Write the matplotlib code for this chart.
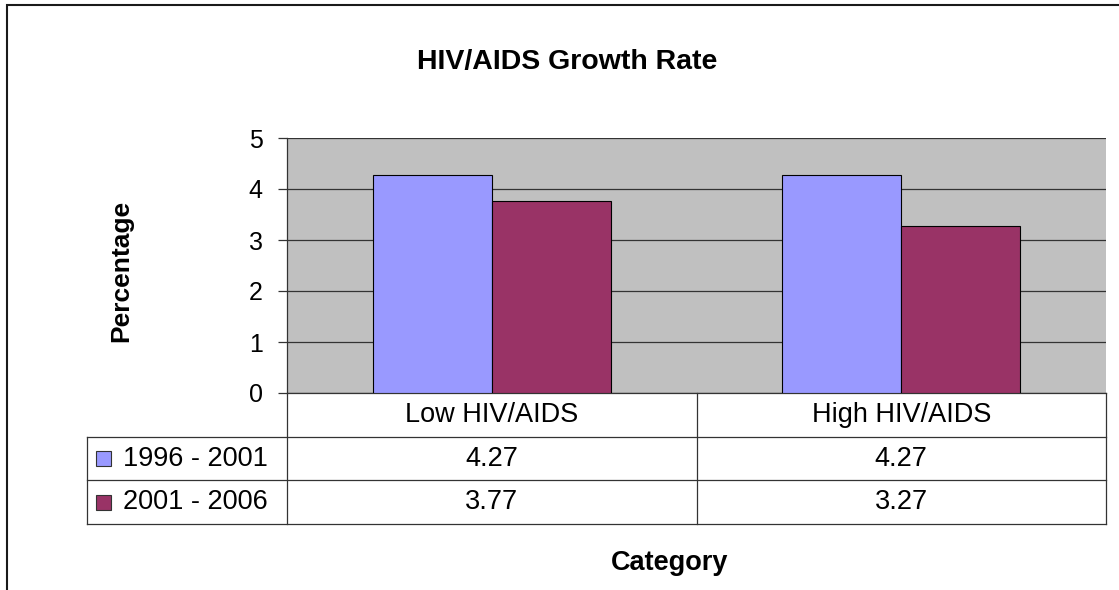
import matplotlib
matplotlib.use("Agg")
import matplotlib.pyplot as plt
from matplotlib.patches import Rectangle
from matplotlib.lines import Line2D

plt.rcParams['font.family'] = ['Liberation Sans', 'DejaVu Sans']

# Data
categories = ["Low HIV/AIDS", "High HIV/AIDS"]
series_names = ["1996 - 2001", "2001 - 2006"]
values_1996_2001 = [4.27, 4.27]
values_2001_2006 = [3.77, 3.27]
series_values = [values_1996_2001, values_2001_2006]
series_colors = ["#9999FF", "#993366"]
yticks = [0, 1, 2, 3, 4, 5]

W, H = 1119, 590
fig = plt.figure(figsize=(W / 100, H / 100), dpi=100)

# Outer chart border (open to the right and bottom)
fig.patches.append(Rectangle((7 / W, -0.2), 1.2, 1.2 - 5 / H, transform=fig.transFigure,
                             fill=False, edgecolor="#1a1a1a", linewidth=1.5))

# Plot area
px0, px1, py0, py1 = 287, 1106, 393, 138
ax = fig.add_axes([px0 / W, 1 - py0 / H, (px1 - px0) / W, (py0 - py1) / H])
ax.set_facecolor("#C0C0C0")
ax.set_xlim(-0.5, len(categories) - 0.5)
ax.set_ylim(0, 5)

bar_w = 0.29
for i, (vals, col) in enumerate(zip(series_values, series_colors)):
    offset = (i - 0.5) * bar_w
    ax.bar([c + offset for c in range(len(categories))], vals, width=bar_w,
           color=col, edgecolor="#000000", linewidth=0.8, zorder=3)

ax.set_yticks(yticks)
ax.set_yticklabels([str(t) for t in yticks], fontsize=18)
ax.yaxis.grid(True, color="#333333", linewidth=0.9, zorder=1)
ax.set_axisbelow(True)
ax.set_xticks([])
ax.tick_params(axis='y', length=6.5, width=0.9, color="#333333", pad=11)
for s in ["top", "right"]:
    ax.spines[s].set_visible(False)
ax.spines["left"].set_color("#333333")
ax.spines["bottom"].set_color("#333333")
ax.spines["left"].set_linewidth(0.9)
ax.spines["bottom"].set_linewidth(0.9)

# Data table beneath the plot
tx0, ty0, ty1 = 87, 524, 393
label_w = (px0 - tx0) / ((px1 - px0) / len(categories))
tax = fig.add_axes([tx0 / W, 1 - ty0 / H, (px1 - tx0) / W, (ty0 - ty1) / H])
tax.set_xlim(-0.5 - label_w, len(categories) - 0.5)
tax.set_ylim(3, 0)
tax.axis("off")
lc = "#333333"
lw = 0.9
xl, xr = -0.5 - label_w, len(categories) - 0.5
# horizontal lines
for y in [1, 2, 3]:
    tax.add_line(Line2D([xl, xr], [y, y], color=lc, lw=lw, clip_on=False))
# vertical lines
tax.add_line(Line2D([xl, xl], [1, 3], color=lc, lw=lw, clip_on=False))
for c in range(len(categories) + 1):
    x = c - 0.5
    tax.add_line(Line2D([x, x], [0, 3], color=lc, lw=lw, clip_on=False))

fs = 19.5
for c, name in enumerate(categories):
    tax.text(c, 0.5, name, ha="center", va="center", fontsize=fs)
for r, (sname, vals, col) in enumerate(zip(series_names, series_values, series_colors)):
    yc = 1.5 + r
    tax.add_patch(Rectangle((xl + 0.022, yc - 0.17), 0.036, 0.34, facecolor=col,
                            edgecolor="#333333", linewidth=0.8, clip_on=False))
    tax.text(xl + 0.088, yc, sname, ha="left", va="center", fontsize=fs)
    for c, v in enumerate(vals):
        tax.text(c, yc, f"{v:.2f}", ha="center", va="center", fontsize=fs)

# Titles
fig.text(567 / W, 1 - 62 / H, "HIV/AIDS Growth Rate", ha="center", va="center",
         fontsize=20.5, fontweight="bold")
fig.text(121 / W, 1 - 271 / H, "Percentage", ha="center", va="center",
         fontsize=19, fontweight="bold", rotation=90)
fig.text(670 / W, 1 - 563 / H, "Category", ha="center", va="center",
         fontsize=19.5, fontweight="bold")

fig.savefig("out.png", dpi=100)
